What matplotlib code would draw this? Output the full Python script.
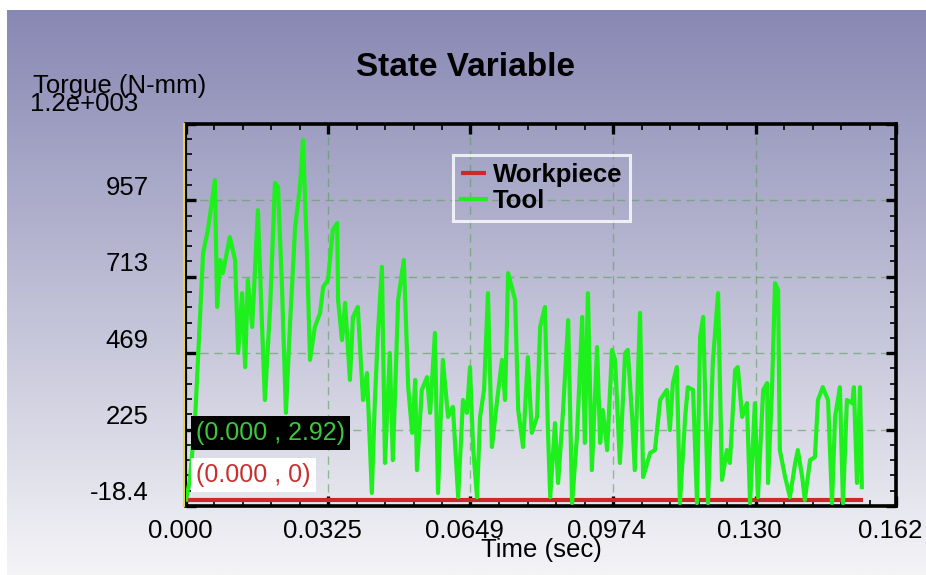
import numpy as np
import matplotlib
matplotlib.use("Agg")
import matplotlib.pyplot as plt
from matplotlib.transforms import ScaledTranslation, blended_transform_factory
from matplotlib.ticker import FixedLocator, MultipleLocator

plt.rcParams['font.family'] = ['Liberation Sans', 'DejaVu Sans']

# ---------------- data ----------------
tool_time = [0.0000, 0.0009, 0.0021, 0.0039, 0.0050, 0.0066, 0.0071, 0.0078, 0.0084, 0.0100,
             0.0112, 0.0119, 0.0128, 0.0135, 0.0141, 0.0151, 0.0164, 0.0173, 0.0180, 0.0192,
             0.0203, 0.0210, 0.0219, 0.0228, 0.0237, 0.0249, 0.0260, 0.0267, 0.0276, 0.0283,
             0.0294, 0.0306, 0.0313, 0.0324, 0.0335, 0.0345, 0.0347, 0.0356, 0.0363, 0.0374,
             0.0381, 0.0392, 0.0404, 0.0413, 0.0424, 0.0431, 0.0438, 0.0447, 0.0454, 0.0465,
             0.0472, 0.0484, 0.0497, 0.0507, 0.0516, 0.0523, 0.0527, 0.0538, 0.0550, 0.0557,
             0.0568, 0.0575, 0.0586, 0.0598, 0.0609, 0.0621, 0.0632, 0.0641, 0.0648, 0.0655,
             0.0664, 0.0671, 0.0680, 0.0689, 0.0698, 0.0710, 0.0721, 0.0728, 0.0735, 0.0751,
             0.0758, 0.0769, 0.0780, 0.0789, 0.0801, 0.0808, 0.0819, 0.0826, 0.0831, 0.0842,
             0.0849, 0.0860, 0.0872, 0.0881, 0.0892, 0.0904, 0.0910, 0.0917, 0.0926, 0.0938,
             0.0945, 0.0951, 0.0961, 0.0972, 0.0979, 0.0990, 0.1002, 0.1008, 0.1018, 0.1024,
             0.1036, 0.1043, 0.1059, 0.1070, 0.1082, 0.1097, 0.1104, 0.1111, 0.1120, 0.1127,
             0.1139, 0.1145, 0.1157, 0.1166, 0.1173, 0.1180, 0.1191, 0.1202, 0.1214, 0.1223,
             0.1234, 0.1241, 0.1253, 0.1259, 0.1269, 0.1280, 0.1287, 0.1298, 0.1305, 0.1317,
             0.1326, 0.1328, 0.1337, 0.1344, 0.1351, 0.1355, 0.1367, 0.1378, 0.1390, 0.1396,
             0.1406, 0.1412, 0.1424, 0.1435, 0.1442, 0.1453, 0.1465, 0.1474, 0.1481, 0.1492,
             0.1499, 0.1508, 0.1520, 0.1524, 0.1531, 0.1538, 0.1542]
tool_torque = [3, 65, 266, 789, 863, 1022, 617, 767, 725, 840,
               767, 470, 661, 425, 703, 553, 926, 575, 320, 617,
               1013, 1000, 681, 279, 553, 872, 1000, 1150, 789, 448,
               553, 598, 681, 703, 863, 885, 639, 511, 630, 384,
               585, 617, 320, 406, 23, 320, 534, 745, 119, 470,
               128, 639, 767, 361, 215, 384, 96, 352, 393, 279,
               534, 23, 448, 266, 298, 10, 320, 279, 425, 170,
               10, 266, 352, 661, 170, 320, 448, 320, 725, 639,
               288, 170, 457, 215, 266, 553, 617, 215, 10, 246,
               55, 279, 575, -9, 202, 585, 183, 661, 96, 489,
               183, 288, 160, 480, 448, 119, 470, 480, 266, 96,
               598, 74, 151, 160, 320, 352, 224, 374, 425, -9,
               266, 361, 352, -9, 521, 585, -9, 438, 661, 65,
               160, 119, 416, 425, 266, 310, -9, 310, 10, 352,
               374, 55, 352, 693, 671, 160, 74, 10, 119, 160,
               74, 1, 128, 138, 320, 361, 320, -9, 266, 361,
               -9, 320, 310, 361, 55, 361, 42]
workpiece_time = [0.0, 0.1545]
workpiece_torque = [0.0, 0.0]

x_ticks = [0.0, 0.0325, 0.0649, 0.0974, 0.130, 0.162]
x_tick_labels = ["0.000", "0.0325", "0.0649", "0.0974", "0.130", "0.162"]
y_ticks = [-18.4, 225, 469, 713, 957]
y_tick_labels = ["-18.4", "225", "469", "713", "957"]
y_top = 1201
y_top_label = "1.2e+003"

W, H = 926, 575
fig = plt.figure(figsize=(W / 100, H / 100), dpi=100)
fig.patch.set_facecolor('white')

# background gradient
bg = fig.add_axes([7 / W, 0, 1 - 7 / W, 1 - 10 / H])
bg.set_axis_off()
top = np.array([136, 136, 180]) / 255
bot = np.array([244, 244, 247]) / 255
f = np.linspace(0, 1, 256)[:, None]
grad = top[None, :] * (1 - f) + bot[None, :] * f
bg.imshow(grad[:, None, :], aspect='auto', extent=[0, 1, 0, 1], interpolation='bilinear')
bg.set_xlim(0, 1); bg.set_ylim(0, 1)

# main axes
L, R, T, B = 186, 896, 124, 506
ax = fig.add_axes([L / W, 1 - B / H, (R - L) / W, (B - T) / H])
ax.patch.set_alpha(0)

ax.plot(workpiece_time, workpiece_torque, color='#cc2a2a', lw=3.0, label='Workpiece', zorder=3,
        solid_capstyle='butt')
ax.plot(tool_time, tool_torque, color='#1ef01e', lw=3.0, label='Tool', zorder=4)

ax.set_xlim(0, 0.162)
ax.set_ylim(-18.4, y_top)

ax.xaxis.set_major_locator(FixedLocator(x_ticks))
ax.set_xticklabels(x_tick_labels)
ax.xaxis.set_minor_locator(MultipleLocator(0.0065))
ax.yaxis.set_major_locator(FixedLocator(y_ticks + [y_top]))
ax.set_yticklabels(y_tick_labels + [""])
ax.yaxis.set_minor_locator(FixedLocator(list(np.arange(-18.4, y_top, 48.8))))

ax.tick_params(which='both', direction='in', top=True, right=True, color='black')
ax.tick_params(which='major', length=7, width=2.4, labelsize=18.5)
ax.tick_params(which='minor', length=4, width=1.2)
ax.tick_params(axis='x', which='major', pad=9)
ax.tick_params(axis='y', which='major', pad=27)

off = ScaledTranslation(0, 0.15, fig.dpi_scale_trans)
for lab in ax.get_yticklabels():
    lab.set_transform(lab.get_transform() + off)
offx = ScaledTranslation(-0.06, 0, fig.dpi_scale_trans)
for lab in ax.get_xticklabels():
    lab.set_transform(lab.get_transform() + offx)

for s in ['top', 'right', 'bottom']:
    ax.spines[s].set_linewidth(2.6)
    ax.spines[s].set_color('black')
ax.spines['left'].set_linewidth(1.5)
ax.spines['left'].set_color('black')
ytr = blended_transform_factory(ax.transData, ax.transAxes) + ScaledTranslation(-0.02, 0, fig.dpi_scale_trans)
ax.plot([0, 0], [0, 1], transform=ytr, color='#e8d44a', lw=1.5, clip_on=False, zorder=5)

ax.grid(True, which='major', linestyle=(0, (6, 4)), color='#5c9c5c', alpha=0.6, lw=1.0)

ax.set_xlabel('Time (sec)', fontsize=18.5, labelpad=-3)

fig.text(33 / W, 1 - 86 / H, 'Torgue (N-mm)', fontsize=18.5, ha='left', va='center')
fig.text(30 / W, 1 - 104 / H, y_top_label, fontsize=18.5, ha='left', va='center')
fig.text(466 / W, 1 - 68 / H, 'State Variable', fontsize=24, fontweight='bold', ha='center', va='center')

leg = ax.legend(loc='upper left', bbox_to_anchor=((453 - L) / (R - L), (B - 155) / (B - T)),
                prop={'weight': 'bold', 'size': 18.5}, frameon=True, fancybox=False,
                handlelength=1.0, handletextpad=0.25, labelspacing=0.1, borderpad=0.3,
                borderaxespad=0)
leg.get_frame().set_facecolor('none')
leg.get_frame().set_edgecolor('white')
leg.get_frame().set_linewidth(2.2)

ax.annotate('(0.000 , 2.92)', xy=(tool_time[0], tool_torque[0]), xytext=(10, 66),
            textcoords='offset pixels', ha='left', va='center', fontsize=18,
            color='#3cc83c', zorder=6,
            bbox=dict(boxstyle='square,pad=0.2', facecolor='black', edgecolor='none'))
ax.annotate('(0.000 , 0)', xy=(workpiece_time[0], workpiece_torque[0]), xytext=(10, 25),
            textcoords='offset pixels', ha='left', va='center', fontsize=18,
            color='#c83030', zorder=6,
            bbox=dict(boxstyle='square,pad=0.2', facecolor='white', edgecolor='none'))

fig.savefig('out.png', dpi=100)
